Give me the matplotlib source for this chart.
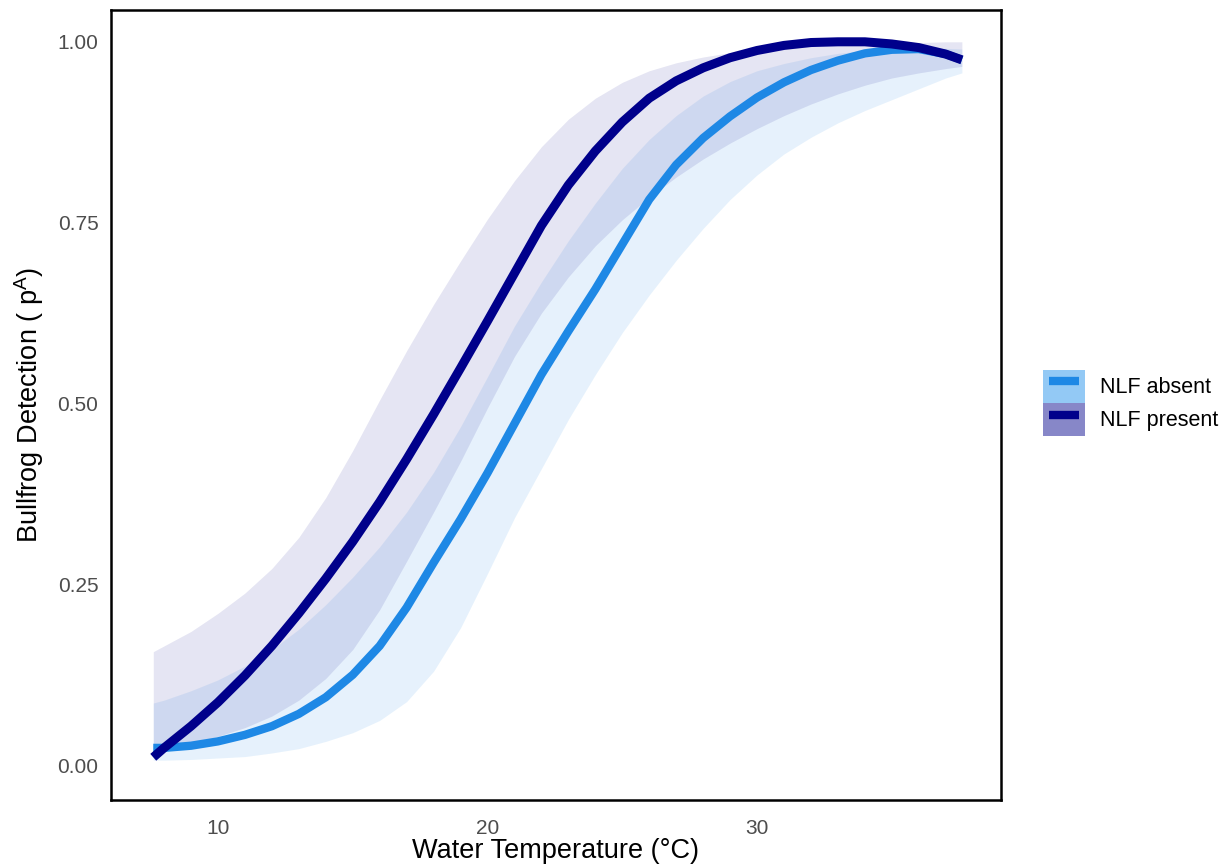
import matplotlib
matplotlib.use("Agg")
import matplotlib.pyplot as plt
from matplotlib.patches import Patch
from matplotlib.lines import Line2D
from matplotlib.legend_handler import HandlerTuple

plt.rcParams['font.family'] = ['Liberation Sans', 'DejaVu Sans']
plt.rcParams['mathtext.fontset'] = 'custom'
plt.rcParams['mathtext.rm'] = 'Liberation Sans'

# water temperature grid (deg C)
temp = [7.6, 8, 9, 10, 11, 12, 13, 14, 15, 16, 17, 18, 19, 20, 21, 22, 23,
        24, 25, 26, 27, 28, 29, 30, 31, 32, 33, 34, 35, 36, 37, 37.6]

# NLF absent: fitted detection and ribbon
absent_fit = [0.024, 0.024, 0.027, 0.033, 0.042, 0.054, 0.071, 0.094, 0.125, 0.165,
              0.218, 0.280, 0.340, 0.404, 0.472, 0.540, 0.600, 0.658, 0.720, 0.782,
              0.830, 0.867, 0.897, 0.923, 0.944, 0.961, 0.974, 0.984, 0.989, 0.990,
              0.983, 0.975]
absent_lo = [0.007, 0.007, 0.008, 0.010, 0.012, 0.017, 0.023, 0.033, 0.045, 0.062,
             0.088, 0.130, 0.190, 0.265, 0.342, 0.410, 0.478, 0.540, 0.598, 0.650,
             0.698, 0.742, 0.782, 0.816, 0.845, 0.868, 0.888, 0.905, 0.920, 0.935,
             0.950, 0.957]
absent_hi = [0.086, 0.090, 0.103, 0.118, 0.137, 0.160, 0.188, 0.222, 0.260, 0.302,
             0.350, 0.405, 0.468, 0.537, 0.607, 0.668, 0.725, 0.777, 0.825, 0.865,
             0.898, 0.925, 0.945, 0.960, 0.970, 0.978, 0.984, 0.988, 0.990, 0.991,
             0.991, 0.990]

# NLF present: fitted detection and ribbon
present_fit = [0.011, 0.024, 0.054, 0.087, 0.124, 0.165, 0.210, 0.258, 0.309, 0.364,
               0.423, 0.485, 0.549, 0.614, 0.680, 0.746, 0.802, 0.849, 0.889, 0.922,
               0.946, 0.964, 0.978, 0.988, 0.995, 0.999, 1.000, 1.000, 0.997, 0.992,
               0.983, 0.975]
present_lo = [0.020, 0.022, 0.030, 0.040, 0.052, 0.068, 0.090, 0.120, 0.160, 0.215,
              0.282, 0.350, 0.420, 0.494, 0.565, 0.625, 0.675, 0.718, 0.754, 0.785,
              0.813, 0.838, 0.860, 0.880, 0.898, 0.914, 0.928, 0.940, 0.950, 0.957,
              0.963, 0.966]
present_hi = [0.157, 0.165, 0.185, 0.210, 0.238, 0.272, 0.315, 0.370, 0.435, 0.505,
              0.573, 0.637, 0.697, 0.755, 0.808, 0.855, 0.893, 0.922, 0.944, 0.960,
              0.971, 0.979, 0.985, 0.989, 0.992, 0.994, 0.996, 0.997, 0.998, 0.999,
              1.000, 1.000]

c_absent = '#1E88E5'
c_present = '#00008B'

fig = plt.figure(figsize=(12.3, 8.67), dpi=100)
ax = fig.add_axes([0.0902, 0.0773, 0.7236, 0.9112])

ax.fill_between(temp, absent_lo, absent_hi, color=c_absent, alpha=0.11, lw=0)
ax.fill_between(temp, present_lo, present_hi, color=c_present, alpha=0.1, lw=0)
ax.plot(temp, absent_fit, color=c_absent, lw=6, solid_capstyle='butt', solid_joinstyle='round')
ax.plot(temp, present_fit, color=c_present, lw=6.5, solid_capstyle='butt', solid_joinstyle='round')

ax.set_xlim(6.03, 39.05)
ax.set_ylim(-0.048, 1.044)
ax.set_xticks([10, 20, 30])
ax.set_yticks([0, 0.25, 0.5, 0.75, 1.0])
ax.set_yticklabels(['0.00', '0.25', '0.50', '0.75', '1.00'])
ax.tick_params(length=0, labelsize=15, labelcolor='#4D4D4D')
ax.tick_params(axis='y', pad=9)
ax.tick_params(axis='x', pad=14)
for s in ax.spines.values():
    s.set_color('black')
    s.set_linewidth(1.8)

ax.set_xlabel('Water Temperature (°C)', fontsize=19.5, labelpad=0)
ax.set_ylabel('Bullfrog Detection ( p$^{\\mathrm{A}}$)', fontsize=19.5, labelpad=8)

# legend keys: filled box with the line on top
h_abs = (Patch(facecolor='#93C9F5', edgecolor='none'),
         Line2D([], [], color=c_absent, lw=6, solid_capstyle='butt'))
h_pre = (Patch(facecolor='#8787C8', edgecolor='none'),
         Line2D([], [], color=c_present, lw=6, solid_capstyle='butt'))
fig.legend([h_abs, h_pre], ['NLF absent', 'NLF present'],
           handler_map={tuple: HandlerTuple(ndivide=1, pad=0)}, numpoints=2,
           loc='center left', bbox_to_anchor=(1043 / 1230, 1 - 403 / 867),
           frameon=False, fontsize=15.5, handlelength=1.95, handleheight=2.0,
           labelspacing=0, borderpad=0, borderaxespad=0, handletextpad=0.7)

fig.savefig('out.png', dpi=100)
